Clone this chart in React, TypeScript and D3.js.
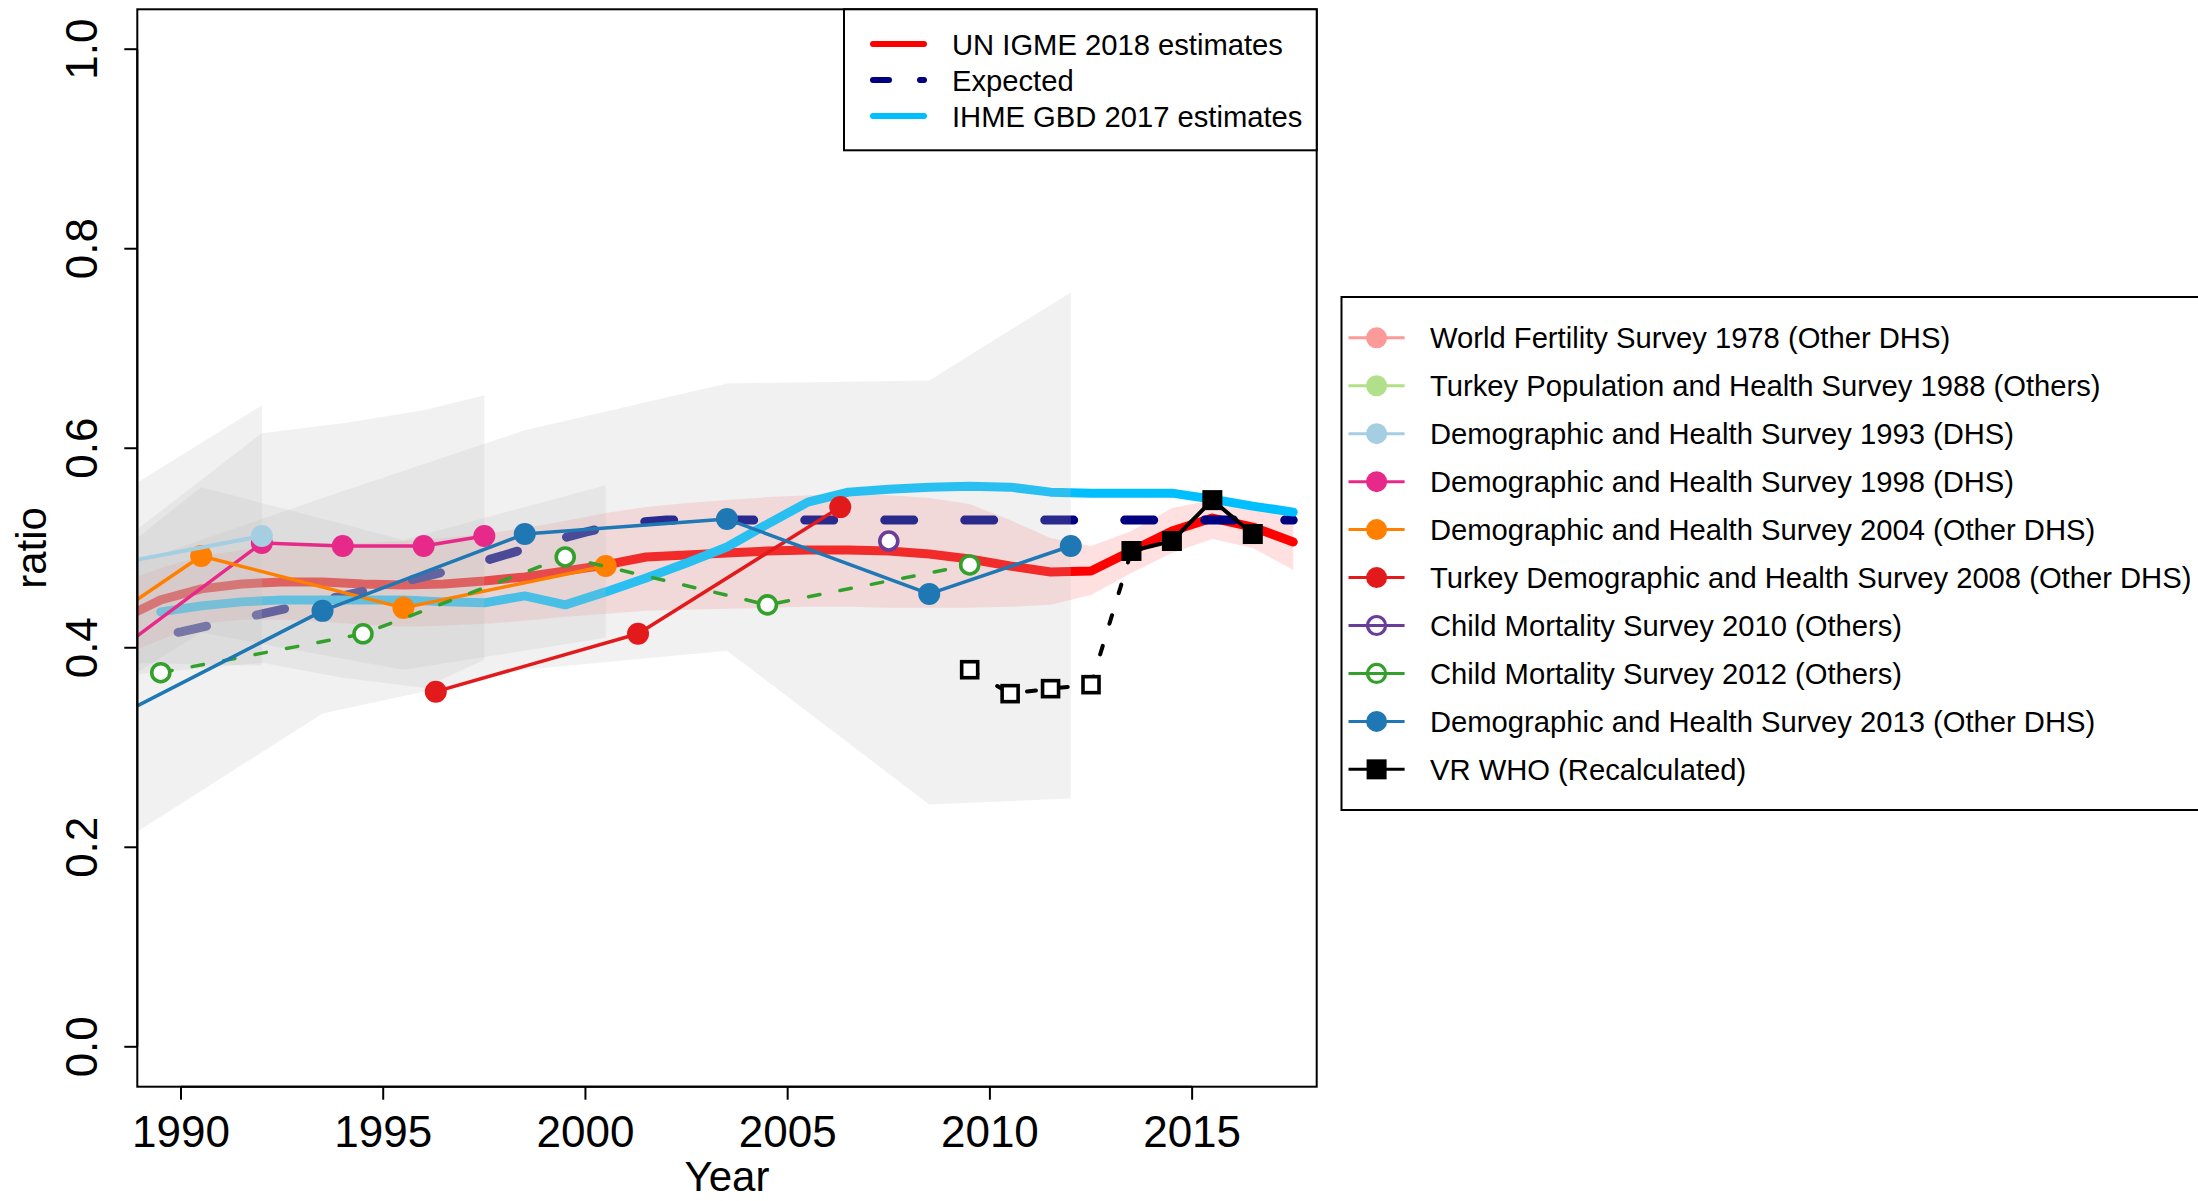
import React from 'react';
import * as d3 from 'd3';

// ---- data ----
const igmeYears = [1988.5, 1989.5, 1990.5, 1991.5, 1992.5, 1993.5, 1994.5, 1995.5, 1996.5, 1997.5, 1998.5, 1999.5, 2000.5, 2001.5, 2002.5, 2003.5, 2004.5, 2005.5, 2006.5, 2007.5, 2008.5, 2009.5, 2010.5, 2011.5, 2012.5, 2013.5, 2014.5, 2015.5, 2016.5, 2017.5];
const igmeMid = [0.428, 0.448, 0.459, 0.464, 0.466, 0.466, 0.464, 0.463, 0.464, 0.467, 0.471, 0.477, 0.483, 0.491, 0.493, 0.495, 0.497, 0.498, 0.498, 0.497, 0.494, 0.489, 0.482, 0.476, 0.477, 0.497, 0.517, 0.530, 0.521, 0.506];
const igmeLow = [0.392, 0.408, 0.424, 0.428, 0.428, 0.426, 0.423, 0.421, 0.422, 0.424, 0.427, 0.431, 0.434, 0.437, 0.438, 0.439, 0.440, 0.441, 0.441, 0.440, 0.440, 0.440, 0.441, 0.443, 0.453, 0.475, 0.495, 0.509, 0.500, 0.478];
const igmeHigh = [0.465, 0.480, 0.492, 0.498, 0.502, 0.504, 0.505, 0.507, 0.510, 0.514, 0.520, 0.527, 0.535, 0.541, 0.545, 0.548, 0.551, 0.553, 0.554, 0.553, 0.550, 0.544, 0.528, 0.510, 0.502, 0.517, 0.540, 0.548, 0.540, 0.531];

const expectedYears = [1988, 1989, 1990, 1991, 1992, 1993, 1994, 1995, 1996, 1997, 1998, 1999, 2000, 2001, 2002, 2017.5];
const expectedVals = [0.398, 0.408, 0.416, 0.425, 0.434, 0.443, 0.452, 0.461, 0.471, 0.481, 0.493, 0.505, 0.516, 0.525, 0.528, 0.528];

const ihmeYears = [1989.5, 1990.5, 1991.5, 1992.5, 1993.5, 1994.5, 1995.5, 1996.5, 1997.5, 1998.5, 1999.5, 2000.5, 2001.5, 2002.5, 2003.5, 2004.5, 2005.5, 2006.5, 2007.5, 2008.5, 2009.5, 2010.5, 2011.5, 2012.5, 2013.5, 2014.5, 2015.5, 2016.5, 2017.5];
const ihmeVals = [0.436, 0.442, 0.446, 0.448, 0.448, 0.448, 0.448, 0.446, 0.445, 0.452, 0.443, 0.456, 0.470, 0.485, 0.501, 0.524, 0.546, 0.556, 0.559, 0.561, 0.562, 0.561, 0.556, 0.555, 0.555, 0.555, 0.549, 0.542, 0.536];

const dhs1993Years = [1988.5, 1992.0];
const dhs1993Vals = [0.485, 0.512];
const dhs1993Lo = [0.385, 0.382];
const dhs1993Hi = [0.555, 0.643];

const dhs1998Years = [1988.0, 1992.0, 1994.0, 1996.0, 1997.5];
const dhs1998Vals = [0.384, 0.505, 0.502, 0.502, 0.512];
const dhs1998Lo = [0.37, 0.385, 0.37, 0.36, 0.388];
const dhs1998Hi = [0.49, 0.615, 0.625, 0.638, 0.653];

const dhs2004Years = [1985.5, 1990.5, 1995.5, 2000.5];
const dhs2004Vals = [0.354, 0.492, 0.440, 0.482];
const dhs2004Lo = [0.29, 0.415, 0.378, 0.41];
const dhs2004Hi = [0.40, 0.561, 0.508, 0.563];

const tdhs2008Years = [1996.3, 2001.3, 2006.3];
const tdhs2008Vals = [0.356, 0.414, 0.541];

const cms2010Years = [2007.5];
const cms2010Vals = [0.507];

const cms2012Years = [1989.5, 1994.5, 1999.5, 2004.5, 2009.5];
const cms2012Vals = [0.375, 0.414, 0.491, 0.443, 0.483];

const dhs2013Years = [1988.5, 1993.5, 1998.5, 2003.5, 2008.5, 2012.0];
const dhs2013Vals = [0.333, 0.437, 0.514, 0.529, 0.454, 0.502];
const dhs2013Lo = [0.205, 0.334, 0.378, 0.397, 0.243, 0.249];
const dhs2013Hi = [0.48, 0.55, 0.618, 0.665, 0.668, 0.756];

const vrExclYears = [2009.5, 2010.5, 2011.5, 2012.5];
const vrExclVals = [0.378, 0.354, 0.359, 0.363];
const vrYears = [2013.5, 2014.5, 2015.5, 2016.5];
const vrVals = [0.497, 0.507, 0.548, 0.514];

const xTicks = [1990, 1995, 2000, 2005, 2010, 2015];
const yTicks = [0, 0.2, 0.4, 0.6, 0.8, 1.0];

const topLegendLabels = ['UN IGME 2018 estimates', 'Expected', 'IHME GBD 2017 estimates'];
const topLegendColors = ['#FF0000', '#000080', '#00BFFF'];

const legendLabels = [
  'World Fertility Survey 1978 (Other DHS)',
  'Turkey Population and Health Survey 1988 (Others)',
  'Demographic and Health Survey 1993 (DHS)',
  'Demographic and Health Survey 1998 (DHS)',
  'Demographic and Health Survey 2004 (Other DHS)',
  'Turkey Demographic and Health Survey 2008 (Other DHS)',
  'Child Mortality Survey 2010 (Others)',
  'Child Mortality Survey 2012 (Others)',
  'Demographic and Health Survey 2013 (Other DHS)',
  'VR WHO (Recalculated)',
];
const legendColors = ['#FB9A99', '#B2DF8A', '#A6CEE3', '#E7298A', '#FF7F00', '#E31A1C', '#6A3D9A', '#33A02C', '#1F78B4', '#000000'];
const legendShapes = ['dot', 'dot', 'dot', 'dot', 'dot', 'dot', 'ring', 'ring', 'dot', 'square'];

// ---- layout ----
const W = 2198;
const H = 1201;
const plot = { left: 137.3, right: 1316.7, top: 9.3, bottom: 1086.7 };
const FONT = '"Liberation Sans", Arial, Helvetica, sans-serif';
const GREY = 'rgb(190,190,190)';

const x = d3.scaleLinear().domain([1988.92, 2018.08]).range([plot.left, plot.right]);
const y = d3.scaleLinear().domain([-0.04, 1.04]).range([plot.bottom, plot.top]);

const zip = (xs: number[], ys: number[]) => xs.map((v, i) => [v, ys[i]] as [number, number]);
const line = d3.line<[number, number]>().x(d => x(d[0])).y(d => y(d[1]));
const band = (xs: number[], lo: number[], hi: number[]) =>
  d3.area<number>().x(i => x(xs[i])).y0(i => y(lo[i])).y1(i => y(hi[i]))(xs.map((_, i) => i)) || '';

const Dots = ({ xs, ys, color, open }: { xs: number[]; ys: number[]; color: string; open?: boolean }) => (
  <g>
    {xs.map((v, i) =>
      open ? (
        <circle key={i} cx={x(v)} cy={y(ys[i])} r={9} fill="#fff" stroke={color} strokeWidth={3.6} />
      ) : (
        <circle key={i} cx={x(v)} cy={y(ys[i])} r={11} fill={color} />
      )
    )}
  </g>
);

const Survey = ({ xs, ys, color, width = 3.5, dash }: { xs: number[]; ys: number[]; color: string; width?: number; dash?: string }) => (
  <path d={line(zip(xs, ys)) || ''} fill="none" stroke={color} strokeWidth={width} strokeDasharray={dash} strokeLinecap="round" strokeLinejoin="round" />
);

const App: React.FC = () => {
  const greyBands = [
    band(dhs1993Years, dhs1993Lo, dhs1993Hi),
    band(dhs1998Years, dhs1998Lo, dhs1998Hi),
    band(dhs2004Years, dhs2004Lo, dhs2004Hi),
    band(dhs2013Years, dhs2013Lo, dhs2013Hi),
  ];
  const legX = 1341.5;
  const legY0 = 337.8;
  const legStep = 47.95;

  return (
    <svg width={W} height={H} style={{ position: 'absolute', left: 0, top: 0, background: '#fff' }} fontFamily={FONT}>
      <defs>
        <clipPath id="plotClip">
          <rect x={plot.left} y={plot.top} width={plot.right - plot.left} height={plot.bottom - plot.top} />
        </clipPath>
      </defs>

      <g clipPath="url(#plotClip)">
        {/* IGME band and central lines */}
        <path d={band(igmeYears, igmeLow, igmeHigh)} fill="#FF0000" fillOpacity={0.12} />
        <path d={line(zip(igmeYears, igmeMid)) || ''} fill="none" stroke="#FF0000" strokeWidth={9} strokeLinecap="round" strokeLinejoin="round" />
        <path d={line(zip(expectedYears, expectedVals)) || ''} fill="none" stroke="#000080" strokeWidth={9} strokeDasharray="29 51" strokeLinecap="round" />
        <path d={line(zip(ihmeYears, ihmeVals)) || ''} fill="none" stroke="#00BFFF" strokeWidth={9} strokeLinecap="round" strokeLinejoin="round" />

        {/* survey uncertainty */}
        {greyBands.map((d, i) => (
          <path key={i} d={d} fill={GREY} fillOpacity={0.22} />
        ))}

        {/* survey series */}
        <Survey xs={dhs1998Years} ys={dhs1998Vals} color="#E7298A" />
        <Dots xs={dhs1998Years} ys={dhs1998Vals} color="#E7298A" />
        <Survey xs={dhs2004Years} ys={dhs2004Vals} color="#FF7F00" />
        <Dots xs={dhs2004Years} ys={dhs2004Vals} color="#FF7F00" />
        <Survey xs={tdhs2008Years} ys={tdhs2008Vals} color="#E31A1C" />
        <Dots xs={tdhs2008Years} ys={tdhs2008Vals} color="#E31A1C" />
        <Survey xs={cms2012Years} ys={cms2012Vals} color="#33A02C" dash="11.5 20.5" />
        <Dots xs={cms2012Years} ys={cms2012Vals} color="#33A02C" open />
        <Dots xs={cms2010Years} ys={cms2010Vals} color="#6A3D9A" open />
        <Survey xs={dhs2013Years} ys={dhs2013Vals} color="#1F78B4" />
        <Dots xs={dhs2013Years} ys={dhs2013Vals} color="#1F78B4" />
        <Survey xs={dhs1993Years} ys={dhs1993Vals} color="#A6CEE3" width={4} />
        <Dots xs={dhs1993Years} ys={dhs1993Vals} color="#A6CEE3" />

        {/* VR WHO */}
        <Survey xs={[...vrExclYears, vrYears[0]]} ys={[...vrExclVals, vrVals[0]]} color="#000" width={4} dash="9 23" />
        <Survey xs={vrYears} ys={vrVals} color="#000" width={4} />
        {vrExclYears.map((v, i) => (
          <rect key={i} x={x(v) - 8} y={y(vrExclVals[i]) - 8} width={16} height={16} fill="#fff" stroke="#000" strokeWidth={3.6} />
        ))}
        {vrYears.map((v, i) => (
          <rect key={i} x={x(v) - 10} y={y(vrVals[i]) - 10} width={20} height={20} fill="#000" />
        ))}
      </g>

      {/* box and axes */}
      <rect x={plot.left} y={plot.top} width={plot.right - plot.left} height={plot.bottom - plot.top} fill="none" stroke="#000" strokeWidth={2} />
      <line x1={plot.left} x2={plot.left} y1={y(0)} y2={y(1)} stroke="#000" strokeWidth={2} />
      {yTicks.map(t => (
        <g key={t}>
          <line x1={plot.left - 13} x2={plot.left} y1={y(t)} y2={y(t)} stroke="#000" strokeWidth={2} />
          <text transform={`translate(96.7,${y(t)}) rotate(-90)`} textAnchor="middle" fontSize={44}>
            {t.toFixed(1)}
          </text>
        </g>
      ))}
      <line x1={x(1990)} x2={x(2015)} y1={plot.bottom} y2={plot.bottom} stroke="#000" strokeWidth={2} />
      {xTicks.map(t => (
        <g key={t}>
          <line x1={x(t)} x2={x(t)} y1={plot.bottom} y2={plot.bottom + 13} stroke="#000" strokeWidth={2} />
          <text x={x(t)} y={1147} textAnchor="middle" fontSize={44}>
            {t}
          </text>
        </g>
      ))}
      <text x={(plot.left + plot.right) / 2} y={1191} textAnchor="middle" fontSize={42}>Year</text>
      <text transform={`translate(46,${(plot.top + plot.bottom) / 2}) rotate(-90)`} textAnchor="middle" fontSize={42}>ratio</text>

      {/* top legend */}
      <rect x={844} y={plot.top} width={plot.right - 844} height={141} fill="#fff" stroke="#000" strokeWidth={2} />
      {topLegendLabels.map((lab, i) => {
        const cy = 44 + i * 36;
        return (
          <g key={lab}>
            <line x1={873} x2={924} y1={cy} y2={cy} stroke={topLegendColors[i]} strokeWidth={6} strokeLinecap="round"
              strokeDasharray={i === 1 ? '16 31' : undefined} />
            <text x={952} y={cy + 10.5} fontSize={29.2}>{lab}</text>
          </g>
        );
      })}

      {/* right legend */}
      <rect x={legX} y={297} width={900} height={513} fill="#fff" stroke="#000" strokeWidth={2} />
      {legendLabels.map((lab, i) => {
        const cy = legY0 + i * legStep;
        const c = legendColors[i];
        const shape = legendShapes[i];
        return (
          <g key={lab}>
            <line x1={1348.5} x2={1404.6} y1={cy} y2={cy} stroke={c} strokeWidth={3} />
            {shape === 'dot' && <circle cx={1376.6} cy={cy} r={10.5} fill={c} />}
            {shape === 'ring' && <circle cx={1376.6} cy={cy} r={9} fill="none" stroke={c} strokeWidth={3.2} />}
            {shape === 'square' && <rect x={1376.6 - 10} y={cy - 10} width={20} height={20} fill={c} />}
            <text x={1430} y={cy + 10.5} fontSize={29.2}>{lab}</text>
          </g>
        );
      })}
    </svg>
  );
};

export default App;
